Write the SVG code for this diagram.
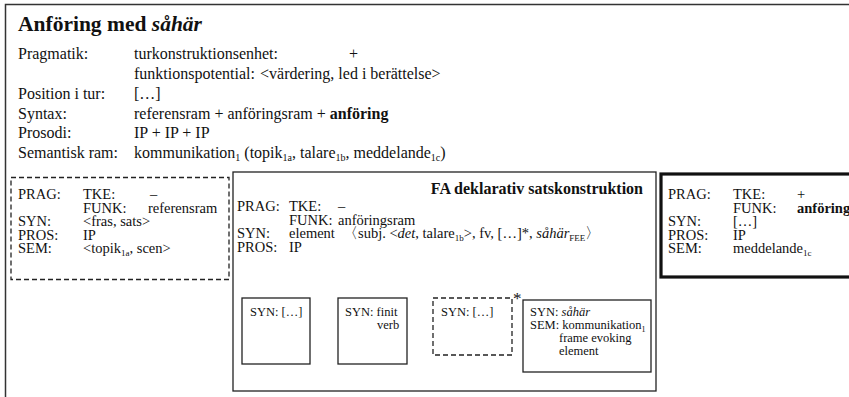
<svg xmlns="http://www.w3.org/2000/svg" width="849" height="397" viewBox="0 0 849 397">
<style>
text{font-family:"Liberation Serif","Times New Roman",serif;fill:#111;}
.m{font-size:16px;}
.s{font-size:14.5px;}
.x{font-size:12.5px;}
.b{font-weight:bold;}
.i{font-style:italic;}
.sub{font-size:10px;}
.ssub{font-size:9px;}
.frame{fill:none;stroke:#333;stroke-width:1.5;}
.box{fill:none;stroke:#222;stroke-width:1.3;}
.dash{fill:none;stroke:#222;stroke-width:1.3;stroke-dasharray:5 3;}
.thick{fill:none;stroke:#111;stroke-width:3.2;}
</style>
<rect class="frame" x="5.5" y="4.5" width="860" height="410"/>
<g id="header">
<text x="18" y="31" font-size="21.5" class="b">Anföring med <tspan class="i">såhär</tspan></text>
<text class="m" x="18" y="59">Pragmatik:</text>
<text class="m" x="134" y="59">turkonstruktionsenhet:</text>
<text class="m" x="349" y="59">+</text>
<text class="m" x="134" y="79">funktionspotential:</text>
<text class="m" x="260" y="79">&lt;värdering, led i berättelse&gt;</text>
<text class="m" x="18" y="99">Position i tur:</text>
<text class="m" x="134" y="99">[…]</text>
<text class="m" x="18" y="118.5">Syntax:</text>
<text class="m" x="134" y="118.5">referensram + anföringsram + <tspan class="b">anföring</tspan></text>
<text class="m" x="18" y="138">Prosodi:</text>
<text class="m" x="134" y="138">IP + IP + IP</text>
<text class="m" x="18" y="157.5">Semantisk ram:</text>
<text class="m" x="134" y="157.5">kommunikation<tspan class="sub" dy="3">1</tspan><tspan dy="-3"> (topik</tspan><tspan class="sub" dy="3">1a</tspan><tspan dy="-3">, talare</tspan><tspan class="sub" dy="3">1b</tspan><tspan dy="-3">, meddelande</tspan><tspan class="sub" dy="3">1c</tspan><tspan dy="-3">)</tspan></text>
</g>
<g id="referensram">
<rect class="dash" x="11" y="177.5" width="218" height="102"/>
<text class="s" x="18" y="199">PRAG:</text>
<text class="s" x="83" y="199">TKE:</text>
<text class="s" x="150" y="199">–</text>
<text class="s" x="148" y="212.5">referensram</text>
<text class="s" x="83" y="212.5">FUNK:</text>
<text class="s" x="18" y="226">SYN:</text>
<text class="s" x="83" y="226">&lt;fras, sats&gt;</text>
<text class="s" x="18" y="239.5">PROS:</text>
<text class="s" x="83" y="239.5">IP</text>
<text class="s" x="18" y="253">SEM:</text>
<text class="s" x="83" y="253">&lt;topik<tspan class="ssub" dy="3">1a</tspan><tspan dy="-3">, scen&gt;</tspan></text>
</g>
<g id="anforingsram">
<rect class="box" x="233" y="172" width="423" height="219"/>
<text class="m b" x="643" y="194" text-anchor="end">FA deklarativ satskonstruktion</text>
<text class="s" x="237" y="211">PRAG:</text>
<text class="s" x="289" y="211">TKE:</text>
<text class="s" x="338" y="211">–</text>
<text class="s" x="289" y="224.5">FUNK:</text>
<text class="s" x="338" y="224.5">anföringsram</text>
<text class="s" x="237" y="238">SYN:</text>
<text class="s" x="289" y="238">element</text>
<text class="s" x="343" y="238">〈subj. &lt;<tspan class="i">det</tspan>, talare<tspan class="ssub" dy="3">1b</tspan><tspan dy="-3">&gt;, fv, […]*, </tspan><tspan class="i">såhär</tspan><tspan class="ssub" dy="3">FEE</tspan><tspan dy="-3">〉</tspan></text>
<text class="s" x="237" y="251.5">PROS:</text>
<text class="s" x="289" y="251.5">IP</text>
</g>
<g id="el1">
<rect class="box" x="242" y="298" width="68" height="66"/>
<text class="x" x="250" y="316">SYN: […]</text>
</g>
<g id="el2">
<rect class="box" x="338" y="298" width="69" height="66"/>
<text class="x" x="345" y="316">SYN: finit</text>
<text class="x" x="377" y="329">verb</text>
</g>
<g id="el3">
<rect class="dash" x="433" y="298" width="79" height="57"/>
<text class="x" x="441" y="316">SYN: […]</text>
<text x="513" y="304" font-size="17">*</text>
</g>
<g id="el4">
<rect class="box" x="523" y="300" width="128" height="72"/>
<text class="x" x="530" y="316">SYN: <tspan class="i">såhär</tspan></text>
<text class="x" x="530" y="329">SEM: kommunikation<tspan font-size="8" dy="3">1</tspan></text>
<text class="x" x="559" y="342">frame evoking</text>
<text class="x" x="559" y="355">element</text>
</g>
<g id="anforing">
<rect class="thick" x="661" y="174" width="200" height="103"/>
<text class="s" x="668" y="199">PRAG:</text>
<text class="s" x="733" y="199">TKE:</text>
<text class="s" x="797" y="199">+</text>
<text class="s" x="733" y="212.5">FUNK:</text>
<text class="s b" x="797" y="212.5">anföring</text>
<text class="s" x="668" y="226">SYN:</text>
<text class="s" x="733" y="226">[…]</text>
<text class="s" x="668" y="239.5">PROS:</text>
<text class="s" x="733" y="239.5">IP</text>
<text class="s" x="668" y="253">SEM:</text>
<text class="s" x="733" y="253">meddelande<tspan class="ssub" dy="3">1c</tspan></text>
</g>
<g id="connectors"/>
</svg>
